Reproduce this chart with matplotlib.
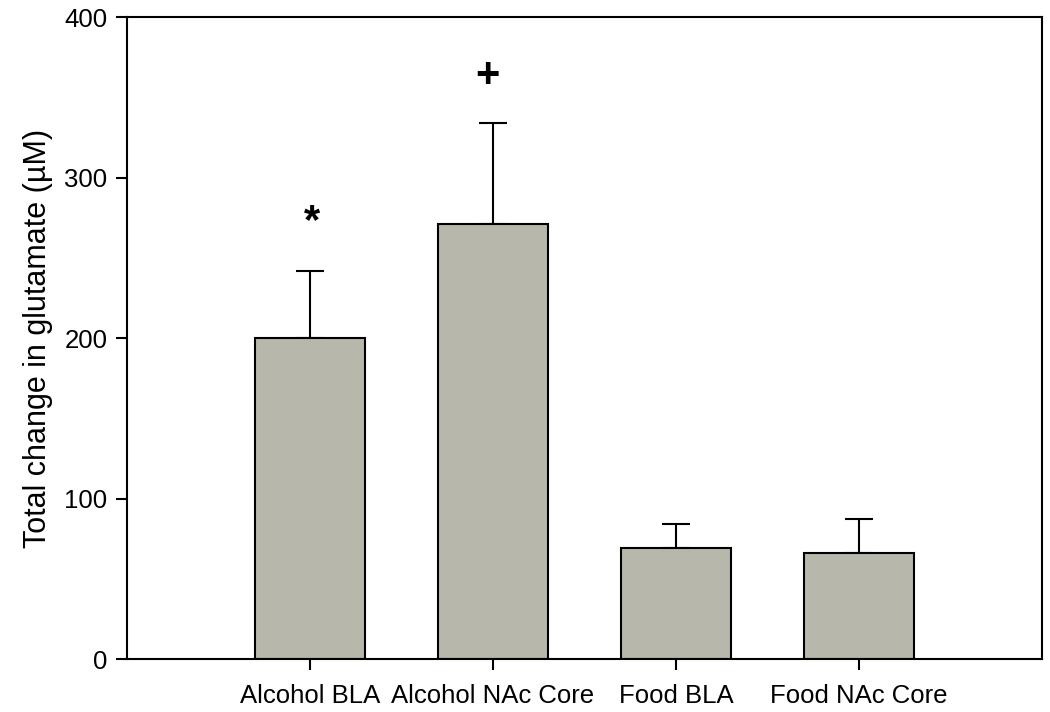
import matplotlib
matplotlib.use('Agg')
import matplotlib.pyplot as plt

# Data
groups = ['Alcohol BLA', 'Alcohol NAc Core', 'Food BLA', 'Food NAc Core']
means = [200, 271, 69, 66]
sems = [42, 63, 15, 21.5]
marks = ['*', '+', '', '']
mark_y = [272, 363, 0, 0]

plt.rcParams['font.family'] = ['Liberation Sans', 'DejaVu Sans']

fig = plt.figure(figsize=(10.5, 7.12), dpi=100)
ax = fig.add_axes([0.121, 0.0744, 0.8714, 0.9016])

pos = list(range(1, len(groups) + 1))
ax.bar(pos, means, width=0.6, color='#b7b7ab', edgecolor='black', linewidth=1.5, zorder=2)
ax.errorbar(pos, means, yerr=[[0] * len(sems), sems], fmt='none', ecolor='black',
            elinewidth=1.5, capsize=10, capthick=1.5, zorder=1)

# significance marks above the alcohol bars
for x, m, y in zip(pos, marks, mark_y):
    if m:
        dx = 0.01 if m == '*' else -0.03
        ax.text(x + dx, y, m, ha='center', va='center', fontsize=30, fontweight='bold')

ax.set_xlim(0, 5)
ax.set_ylim(0, 400)
ax.set_yticks([0, 100, 200, 300, 400])
ax.set_xticks(pos)
ax.set_xticklabels(groups)
ax.tick_params(axis='both', direction='out', length=8, width=1.5, labelsize=18.5, pad=6)
ax.tick_params(axis='x', pad=10)
ax.tick_params(top=False, right=False)
for s in ax.spines.values():
    s.set_linewidth(1.5)
ax.set_ylabel('Total change in glutamate (µM)', fontsize=22, labelpad=8)

fig.savefig('out.png', dpi=100)
